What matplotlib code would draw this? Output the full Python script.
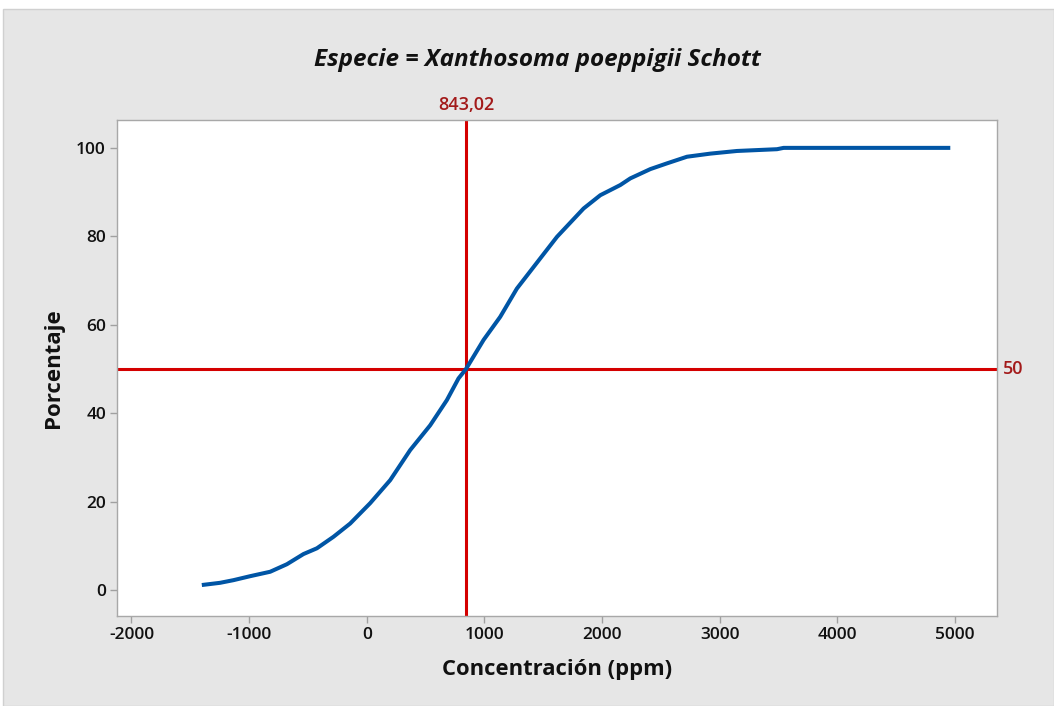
import matplotlib
matplotlib.use("Agg")
import matplotlib.pyplot as plt
from matplotlib.patches import Rectangle

# Data
conc = [-1402, -1247, -1133, -991, -821, -679, -538, -424, -283, -141, 29, 199,
        369, 539, 681, 780, 843.02, 993, 1134, 1276, 1474, 1617, 1843, 1985,
        2155, 2240, 2410, 2552, 2722, 2920, 3147, 3487, 3543, 4960]
pct = [1.2, 1.7, 2.3, 3.2, 4.2, 5.9, 8.2, 9.5, 12.1, 15.1, 19.7, 24.9,
       31.7, 37.3, 43.0, 47.9, 50.0, 56.6, 61.8, 68.2, 75.0, 79.9, 86.3, 89.3,
       91.6, 93.1, 95.2, 96.5, 98.0, 98.7, 99.3, 99.7, 100.0, 100.0]
ref_x = 843.02
ref_y = 50
ref_x_label = "843,02"
ref_y_label = "50"
xticks = [-2000, -1000, 0, 1000, 2000, 3000, 4000, 5000]
yticks = [0, 20, 40, 60, 80, 100]
title = "Especie = Xanthosoma poeppigii Schott"
xlabel = "Concentración (ppm)"
ylabel = "Porcentaje"

plt.rcParams['font.family'] = ['Open Sans', 'DejaVu Sans']

W, H = 1054, 706
fig = plt.figure(figsize=(W / 100, H / 100), dpi=100)
fig.patch.set_facecolor('white')
# gray panel
fig.patches.append(Rectangle((3 / W, 0), 1 - 3 / W, 1 - 9 / H, transform=fig.transFigure,
                             facecolor='#e6e6e6', edgecolor='#d0d0d0', lw=1, zorder=-10))

L, R, T, B = 117, 997, 120, 616
ax = fig.add_axes([L / W, 1 - B / H, (R - L) / W, (B - T) / H])
ax.set_facecolor('white')
ax.set_xlim(-2123, 5357)
ax.set_ylim(-5.8, 106.3)

ax.plot(conc, pct, color='#0055a5', lw=2.9, zorder=3, solid_capstyle='butt')
ax.axvline(ref_x, color='#d40000', lw=2.2, zorder=2)
ax.axhline(ref_y, color='#d40000', lw=2.2, zorder=2)

lab_color = '#a31a1a'
fig.text(ax.transData.transform((ref_x, 0))[0] / W, 1 - 105 / H, ref_x_label,
         color=lab_color, fontsize=13, fontweight='semibold', ha='center', va='center')
fig.text(1003 / W, ax.transData.transform((0, ref_y))[1] / H, ref_y_label,
         color=lab_color, fontsize=13, fontweight='semibold', ha='left', va='center')

ax.set_xticks(xticks)
ax.set_yticks(yticks)
ax.set_xticklabels([str(v) for v in xticks])
ax.set_yticklabels([str(v) for v in yticks])
ax.tick_params(axis='both', direction='out', length=5, width=1, color='#a0a0a0',
               labelsize=12.5, labelcolor='#111111', pad=3)
for lab in ax.get_xticklabels() + ax.get_yticklabels():
    lab.set_fontweight('semibold')
for s in ax.spines.values():
    s.set_color('#a8a8a8')
    s.set_linewidth(1)

fig.text(537 / W, 1 - 60 / H, title, fontsize=17.5, fontweight='bold', fontstyle='italic',
         ha='center', va='center', color='#111111')
fig.text(557 / W, 1 - 669 / H, xlabel, fontsize=15.8, fontweight='bold',
         ha='center', va='center', color='#111111')
fig.text(53 / W, 1 - 368 / H, ylabel, fontsize=16, fontweight='bold', rotation=90,
         ha='center', va='center', color='#111111')

fig.savefig('out.png', dpi=100, facecolor=fig.get_facecolor())
